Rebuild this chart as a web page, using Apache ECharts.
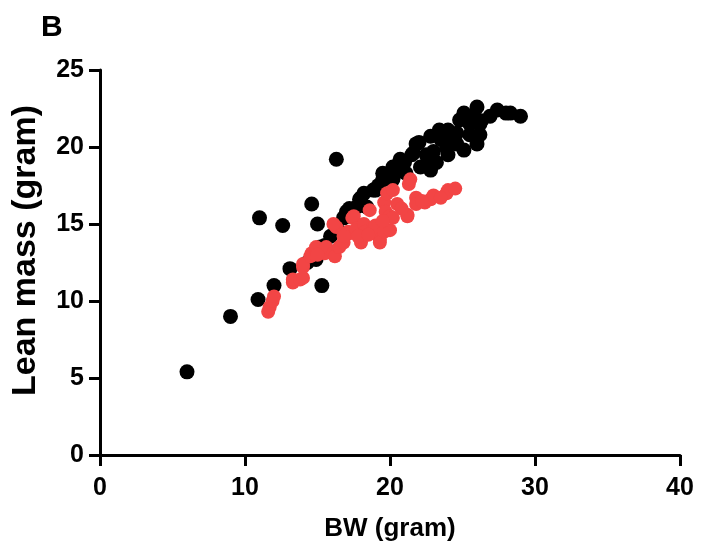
<!DOCTYPE html>
<html>
<head>
<meta charset="utf-8">
<script src="https://cdn.jsdelivr.net/npm/echarts@6/dist/echarts.min.js"></script>
<style>
  html, body { margin: 0; padding: 0; background: #fff; }
  #main { width: 709px; height: 551px; }
</style>
</head>
<body>
<div id="main"></div>
<script>
// black group: body weight (BW) and lean mass, gram
var blackBW = [6.0, 9.0, 10.9, 11.0, 12.0, 12.6, 13.1, 14.6, 15.0, 15.3, 16.3,
  14.3, 14.9, 15.2, 15.9, 16.3, 16.8, 17.2, 17.7, 17.9, 18.4, 18.85, 19.0, 19.5,
  19.5, 20.2, 20.2, 20.7, 21.1, 21.5, 21.6, 21.8, 22.1, 22.0, 22.4, 22.8, 22.8,
  23.0, 23.4, 23.5, 23.9, 24.0, 24.6, 24.6, 24.8, 25.1, 25.1, 25.5, 26.0, 26.2,
  26.0, 26.2, 26.3, 26.9, 27.4, 28.0, 28.3, 29.0, 18.0, 19.6,
  17.0, 18.2, 19.2, 20.5, 21.0, 22.5, 23.2, 24.2, 25.5, 25.8, 24.0, 15.5, 16.5];
var blackLean = [5.4, 9.0, 10.1, 15.4, 11.0, 14.9, 12.1, 16.3, 15.0, 11.0, 19.2,
  12.5, 12.7, 13.5, 14.2, 14.8, 15.4, 16.0, 16.1, 16.6, 16.1, 17.2, 17.2, 17.9,
  18.3, 18.7, 17.9, 19.2, 18.3, 19.5, 19.6, 20.2, 18.7, 20.3, 18.8, 20.7, 18.5,
  19.7, 21.1, 20.5, 20.0, 21.1, 20.9, 20.2, 21.75, 22.2, 19.8, 21.5, 22.6, 21.5,
  20.2, 20.8, 21.7, 22.0, 22.4, 22.2, 22.2, 22.0, 16.7, 17.9,
  15.8, 17.0, 17.5, 18.4, 19.0, 19.5, 19.0, 20.6, 20.8, 22.0, 19.5, 13.6, 14.5];

// red group: body weight (BW) and lean mass, gram
var redBW = [11.6, 11.7, 11.9, 12.0, 13.3, 13.3, 13.8, 14.0, 14.0, 14.0, 14.5,
  14.6, 14.9, 14.9, 15.5, 15.6, 16.1, 16.2, 16.3, 16.5, 16.8, 17.1, 17.2, 17.4,
  17.5, 17.7, 18.0, 18.2, 18.3, 18.6, 18.85, 19.0, 19.3, 19.3, 19.6, 19.6, 19.7,
  19.8, 20.0, 20.0, 20.2, 20.2, 20.5, 21.2, 21.2, 21.3, 21.4, 21.8, 21.8, 22.4,
  22.8, 23.0, 23.9, 24.0, 24.5, 16.1,
  15.0, 16.8, 17.8, 18.5, 19.5, 20.8, 22.2, 23.5];
var redLean = [9.3, 9.6, 10.0, 10.3, 11.2, 11.4, 11.4, 11.5, 12.2, 12.4, 12.9,
  13.1, 13.3, 13.5, 13.1, 13.5, 13.1, 12.9, 14.8, 13.5, 13.8, 14.5, 14.4, 15.4,
  15.5, 14.7, 13.8, 15.0, 14.5, 15.9, 14.6, 14.9, 14.0, 13.8, 14.5, 16.4, 15.8,
  17.0, 15.5, 14.6, 17.2, 15.4, 16.3, 15.6, 15.5, 17.6, 17.9, 16.7, 16.3, 16.4,
  16.6, 16.85, 17.0, 17.2, 17.3, 15.0,
  13.0, 14.2, 14.2, 14.3, 15.2, 16.0, 16.5, 16.7];

function pairs(xs, ys) {
  return xs.map(function (x, i) { return [x, ys[i]]; });
}

var chart = echarts.init(document.getElementById('main'));
var fam = 'Liberation Sans, Arial, sans-serif';
var tickFont = { color: '#000', fontSize: 25, fontWeight: 'bold', fontFamily: fam };

chart.setOption({
  animation: false,
  title: {
    text: 'B',
    left: 36,
    top: 8,
    textStyle: { color: '#000', fontSize: 30, fontWeight: 'bold', fontFamily: fam }
  },
  grid: { left: 100, right: 29, top: 70, bottom: 96 },
  xAxis: {
    type: 'value',
    min: 0, max: 40, interval: 10,
    name: 'BW (gram)',
    nameLocation: 'middle',
    nameGap: 61,
    nameTextStyle: { color: '#000', fontSize: 26, fontWeight: 'bold', fontFamily: fam },
    axisLine: { onZero: false, lineStyle: { color: '#000', width: 3 } },
    axisTick: { show: true, length: 11, lineStyle: { color: '#000', width: 3 } },
    axisLabel: Object.assign({ margin: 21 }, tickFont),
    splitLine: { show: false }
  },
  yAxis: {
    type: 'value',
    min: 0, max: 25, interval: 5,
    name: 'Lean mass (gram)',
    nameLocation: 'middle',
    nameGap: 57,
    nameTextStyle: { color: '#000', fontSize: 34, fontWeight: 'bold', fontFamily: fam, padding: [0, 0, 0, 24] },
    axisLine: { show: true, onZero: false, lineStyle: { color: '#000', width: 3 } },
    axisTick: { show: true, length: 11, lineStyle: { color: '#000', width: 3 } },
    axisLabel: Object.assign({ margin: 16 }, tickFont),
    splitLine: { show: false }
  },
  series: [
    {
      name: 'black',
      type: 'scatter',
      symbolSize: 15,
      itemStyle: { color: '#000', opacity: 1 },
      data: pairs(blackBW, blackLean)
    },
    {
      name: 'red',
      type: 'scatter',
      symbolSize: 14,
      itemStyle: { color: '#f24545', opacity: 1 },
      data: pairs(redBW, redLean)
    }
  ]
});
</script>
</body>
</html>
